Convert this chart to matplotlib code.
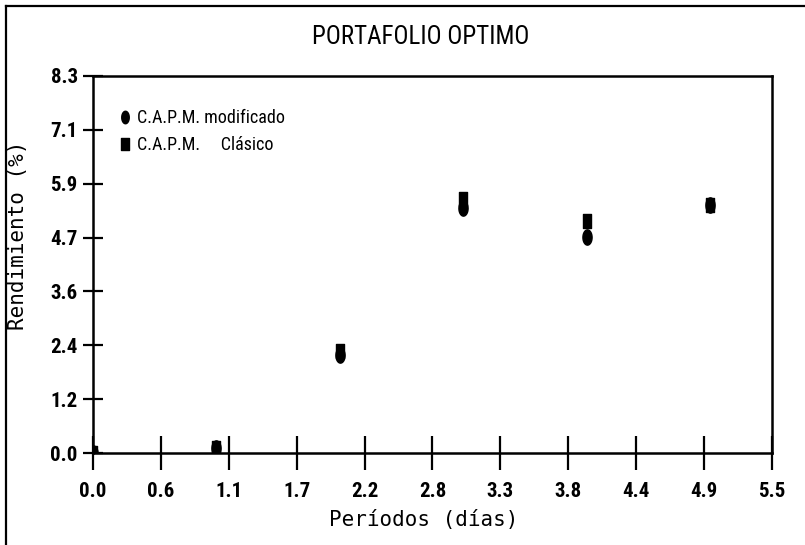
import numpy as np
import matplotlib
matplotlib.use("Agg")
import matplotlib.pyplot as plt
from matplotlib.path import Path
from matplotlib.lines import Line2D

# datos del portafolio
periodos = [0, 1, 2, 3, 4, 5]
capm_modificado = [0.0, 0.1, 2.15, 5.4, 4.75, 5.45]
capm_clasico = [0.0, 0.1, 2.25, 5.6, 5.1, 5.45]

x_ticks = [0.0, 0.55, 1.1, 1.65, 2.2, 2.75, 3.3, 3.85, 4.4, 4.95, 5.5]
x_labels = ["0.0", "0.6", "1.1", "1.7", "2.2", "2.8", "3.3", "3.8", "4.4", "4.9", "5.5"]
y_ticks = [0.0, 1.186, 2.371, 3.557, 4.743, 5.929, 7.114, 8.3]
y_labels = ["0.0", "1.2", "2.4", "3.6", "4.7", "5.9", "7.1", "8.3"]

narrow = ["Roboto Condensed", "DejaVu Sans"]
mono = ["DejaVu Sans Mono"]

# marcadores alargados (elipse y rectangulo verticales)
t = np.linspace(0, 2 * np.pi, 40)
elipse = Path(np.column_stack([0.3 * np.cos(t), 0.5 * np.sin(t)]), closed=True)
rect = Path([(-0.3, -0.5), (0.3, -0.5), (0.3, 0.5), (-0.3, 0.5), (-0.3, -0.5)], closed=True)

fig = plt.figure(figsize=(8.05, 5.45), dpi=100)
ax = fig.add_axes([0.1155, 0.1688, 0.8435, 0.6918])

ax.plot(periodos, capm_clasico, linestyle="none", marker=rect, markersize=10,
        color="black", label="C.A.P.M.     Clásico")
ax.plot(periodos, capm_modificado, linestyle="none", marker=elipse, markersize=11,
        color="black", label="C.A.P.M. modificado")

ax.set_xlim(0, 5.5)
ax.set_ylim(0, 8.3)
ax.set_xticks(x_ticks)
ax.set_xticklabels(x_labels, family=narrow, stretch="condensed", fontsize=15, fontweight="bold")
ax.set_yticks(y_ticks)
ax.set_yticklabels(y_labels, family=narrow, stretch="condensed", fontsize=15, fontweight="bold")
ax.tick_params(axis="x", direction="inout", length=24, width=1.6, pad=9)
ax.tick_params(axis="y", direction="inout", length=14, width=1.6, pad=4)
for s in ax.spines.values():
    s.set_linewidth(1.8)

ax.set_xlabel("Períodos (días)", family=mono, fontsize=15)
ax.xaxis.set_label_coords(0.487, -0.152)
ax.set_ylabel("Rendimiento (%)", family=mono, fontsize=15)
ax.yaxis.set_label_coords(-0.095, 0.578)

fig.text(0.523, 0.932, "PORTAFOLIO OPTIMO", family=narrow, stretch="condensed",
         fontsize=18, ha="center", va="center")

handles = [
    Line2D([], [], linestyle="none", marker=elipse, markersize=9, color="black"),
    Line2D([], [], linestyle="none", marker=rect, markersize=9, color="black"),
]
ax.legend(handles, ["C.A.P.M. modificado", "C.A.P.M.     Clásico"],
          loc="upper left", bbox_to_anchor=(0.015, 0.955), frameon=False,
          handlelength=0.6, handletextpad=0.35, labelspacing=0.5,
          prop={"family": narrow, "stretch": "condensed", "size": 13})

# marco exterior de la hoja
fig.add_artist(Line2D([0.007, 0.007], [0.0, 0.989], color="black", linewidth=1.6))
fig.add_artist(Line2D([0.007, 1.0], [0.989, 0.989], color="black", linewidth=1.6))

fig.savefig("out.png", dpi=100)
